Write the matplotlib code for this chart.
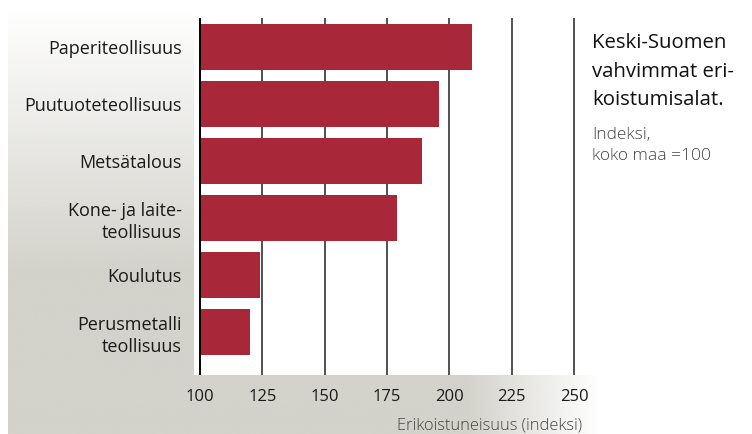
import numpy as np
import matplotlib.pyplot as plt
from matplotlib.colors import to_rgb

# -------------------------------------------------------------------
# DATA
# -------------------------------------------------------------------
categories = [
    "Paperiteollisuus",
    "Puutuoteteollisuus",
    "Metsätalous",
    "Kone- ja laite-\nteollisuus",
    "Koulutus",
    "Perusmetalli\nteollisuus",
]
values = [209, 196, 189, 179, 124, 120]
x_ticks = [100, 125, 150, 175, 200, 225, 250]

TITLE = "Keski-Suomen\nvahvimmat eri-\nkoistumisalat."
SUBTITLE = "Indeksi,\nkoko maa =100"
XLABEL = "Erikoistuneisuus (indeksi)"

BAR_COLOR = "#a8283a"
PANEL = "#d3d2cb"
W, H = 752, 434

plt.rcParams["font.family"] = ["Open Sans", "DejaVu Sans"]

fig = plt.figure(figsize=(W / 100, H / 100), dpi=100)

# -------------------------------------------------------------------
# gray background panels with fades
# -------------------------------------------------------------------
bg = fig.add_axes([0, 0, 1, 1], zorder=0)
bg.set_xlim(0, W)
bg.set_ylim(H, 0)
bg.axis("off")

rgb = np.array(to_rgb(PANEL))

# left panel, fading to white at the top
n = 200
a = np.clip(np.linspace(0, 1.6, n), 0, 1)[:, None]
img = np.ones((n, 1, 4))
img[..., :3] = rgb
img[..., 3] = a
bg.imshow(img, extent=[8, 194, 434, 5], aspect="auto", interpolation="bilinear")

# bottom band, fading to white at the right
a = np.clip(np.linspace(4.5, 0, n), 0, 1)[None, :]
img = np.ones((1, n, 4))
img[..., :3] = rgb
img[..., 3] = a
bg.imshow(img, extent=[8, 600, 434, 375], aspect="auto", interpolation="bilinear")

# -------------------------------------------------------------------
# main bar chart
# -------------------------------------------------------------------
left, right, top, bottom = 194, 600, 18, 375
ax = fig.add_axes([left / W, 1 - bottom / H, (right - left) / W, (bottom - top) / H],
                  zorder=1)

y = np.arange(len(categories))
ax.barh(y, [v - 100 for v in values], left=100, height=0.8, color=BAR_COLOR, zorder=3)

for t in x_ticks[1:]:
    ax.axvline(t, color="#222222", lw=1.1, zorder=1)
ax.axvline(100, color="black", lw=1.4, zorder=4)

ax.set_xlim(97.6, 260.4)
ax.set_ylim(len(categories) - 1 + 0.754, -0.51)

ax.set_yticks(y)
ax.set_yticklabels(categories, fontsize=13, color="#1a1a1a", ha="right",
                   multialignment="right", linespacing=1.25)
ax.set_xticks(x_ticks)
ax.set_xticklabels([str(t) for t in x_ticks], fontsize=12, color="#1a1a1a")
ax.tick_params(axis="both", length=0)
ax.tick_params(axis="y", pad=9)
ax.tick_params(axis="x", pad=10)
for s in ax.spines.values():
    s.set_visible(False)

fig.text(582 / W, 1 - 425 / H, XLABEL, fontsize=11.8, color="#444444",
         ha="right", va="center", fontweight="light")

# title block
fig.text(592 / W, 1 - 33 / H, TITLE, fontsize=14.7, color="#111111",
         ha="left", va="top", linespacing=1.58)
fig.text(592 / W, 1 - 127 / H, SUBTITLE, fontsize=12.5, color="#444444",
         ha="left", va="top", linespacing=1.42, fontweight="light")

fig.savefig("out.png", dpi=100)
